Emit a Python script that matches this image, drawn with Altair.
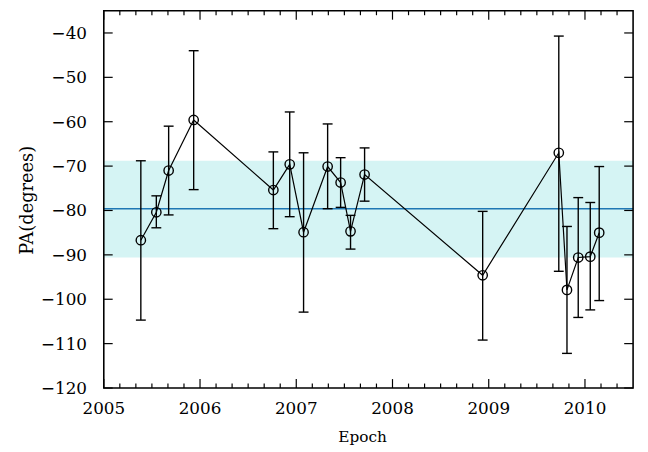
import altair as alt
import pandas as pd

# ---- data ----
epoch = [2005.385, 2005.546, 2005.674, 2005.934, 2006.762, 2006.932, 2007.076,
         2007.326, 2007.461, 2007.564, 2007.710, 2008.937, 2009.728, 2009.813,
         2009.930, 2010.055, 2010.148]
pa = [-86.7, -80.4, -71.0, -59.6, -75.4, -69.6, -84.9, -70.1, -73.7, -84.7,
      -71.9, -94.6, -67.0, -97.9, -90.6, -90.4, -85.0]
pa_lo = [-104.7, -83.9, -81.0, -75.3, -84.1, -81.4, -102.9, -79.6, -79.3, -88.7,
         -77.9, -109.2, -93.7, -112.2, -104.1, -102.4, -100.3]
pa_hi = [-68.8, -76.7, -61.0, -44.0, -66.8, -57.8, -67.0, -60.5, -68.1, -81.1,
         -65.9, -80.2, -40.7, -83.6, -77.1, -78.2, -70.1]

band_lo = [-90.6]
band_hi = [-68.8]
mean_pa = [-79.6]

x_major = [2005, 2006, 2007, 2008, 2009, 2010]
x_labels = ["2005", "2006", "2007", "2008", "2009", "2010"]
x_minor = [2005 + k / 6 for k in range(1, 33) if k % 6]
y_major = [-120, -110, -100, -90, -80, -70, -60, -50, -40]
y_labels = ["\u2212120", "\u2212110", "\u2212100", "\u221290", "\u221280",
            "\u221270", "\u221260", "\u221250", "\u221240"]
x_title = ["Epoch"]
y_title = ["PA(degrees)"]

W, H = 536, 382
FONT = "DejaVu Serif"

df = pd.DataFrame({"epoch": epoch, "pa": pa, "lo": pa_lo, "hi": pa_hi})
band_df = pd.DataFrame({"lo": band_lo, "hi": band_hi})
mean_df = pd.DataFrame({"m": mean_pa})
xmaj_df = pd.DataFrame({"t": x_major, "lab": x_labels})
xmin_df = pd.DataFrame({"t": x_minor})
ymaj_df = pd.DataFrame({"t": y_major, "lab": y_labels})
xt_df = pd.DataFrame({"lab": x_title})
yt_df = pd.DataFrame({"lab": y_title})
one_df = pd.DataFrame({"a": [0]})

xs = alt.Scale(domain=[2005, 2010.5], nice=False, zero=False)
ys = alt.Scale(domain=[-120, -35], nice=False, zero=False)


def X(f):
    return alt.X(f, scale=xs, axis=None)


def Y(f):
    return alt.Y(f, scale=ys, axis=None)


band = alt.Chart(band_df).mark_rect(color="#d5f4f4").encode(
    x=alt.value(0), x2=alt.value(W), y=Y("lo:Q"), y2="hi:Q")

mean_line = alt.Chart(mean_df).mark_rule(color="#1f77b4", strokeWidth=1.5).encode(
    x=alt.value(0), x2=alt.value(W), y=Y("m:Q"))

err = alt.Chart(df).mark_rule(color="black", strokeWidth=1.4).encode(
    x=X("epoch:Q"), y=Y("lo:Q"), y2="hi:Q")
cap_lo = alt.Chart(df).mark_tick(orient="horizontal", size=10, thickness=1.4,
                                 color="black", opacity=1).encode(
    x=X("epoch:Q"), y=Y("lo:Q"))
cap_hi = alt.Chart(df).mark_tick(orient="horizontal", size=10, thickness=1.4,
                                 color="black", opacity=1).encode(
    x=X("epoch:Q"), y=Y("hi:Q"))

line = alt.Chart(df).mark_line(color="black", strokeWidth=1.2).encode(
    x=X("epoch:Q"), y=Y("pa:Q"))
pts = alt.Chart(df).mark_point(shape="circle", filled=False, size=90, color="black",
                               strokeWidth=1.4, opacity=1).encode(
    x=X("epoch:Q"), y=Y("pa:Q"))

tk = dict(color="black", strokeWidth=1.2)
xb_maj = alt.Chart(xmaj_df).mark_rule(**tk).encode(
    x=X("t:Q"), y=alt.value(H), y2=alt.value(H - 9))
xt_maj = alt.Chart(xmaj_df).mark_rule(**tk).encode(
    x=X("t:Q"), y=alt.value(0), y2=alt.value(9))
xb_min = alt.Chart(xmin_df).mark_rule(**tk).encode(
    x=X("t:Q"), y=alt.value(H), y2=alt.value(H - 4.5))
xt_min = alt.Chart(xmin_df).mark_rule(**tk).encode(
    x=X("t:Q"), y=alt.value(0), y2=alt.value(4.5))
yl_maj = alt.Chart(ymaj_df).mark_rule(**tk).encode(
    y=Y("t:Q"), x=alt.value(0), x2=alt.value(9))
yr_maj = alt.Chart(ymaj_df).mark_rule(**tk).encode(
    y=Y("t:Q"), x=alt.value(W), x2=alt.value(W - 9))

x_lab = alt.Chart(xmaj_df).mark_text(font=FONT, fontSize=17, color="black",
                                     align="center", baseline="alphabetic").encode(
    x=X("t:Q"), y=alt.value(H + 26.5), text="lab:N")
y_lab = alt.Chart(ymaj_df).mark_text(font=FONT, fontSize=17, color="black",
                                     align="right", baseline="middle", dy=1).encode(
    y=Y("t:Q"), x=alt.value(-17), text="lab:N")
x_tit = alt.Chart(xt_df).mark_text(font=FONT, fontSize=15.5, color="black",
                                   align="center", baseline="alphabetic").encode(
    x=alt.value(262), y=alt.value(H + 55), text="lab:N")
y_tit = alt.Chart(yt_df).mark_text(font=FONT, fontSize=18, color="black", angle=270,
                                   align="center", baseline="alphabetic").encode(
    x=alt.value(-72), y=alt.value(192), text="lab:N")

frame = alt.Chart(one_df).mark_rect(fill=None, stroke="black", strokeWidth=1.6).encode(
    x=alt.value(0), x2=alt.value(W), y=alt.value(0), y2=alt.value(H))

chart = alt.layer(
    band, mean_line, err, cap_lo, cap_hi, line, pts,
    xb_maj, xt_maj, xb_min, xt_min, yl_maj, yr_maj, frame,
    x_lab, y_lab, x_tit, y_tit
).properties(
    width=W, height=H,
    autosize=alt.AutoSizeParams(type="none"),
    padding={"left": 97, "top": 0, "right": 7, "bottom": 62},
    background="white",
).configure_view(stroke=None)

chart.save("out.html", embed_options={"renderer": "svg", "actions": False})
